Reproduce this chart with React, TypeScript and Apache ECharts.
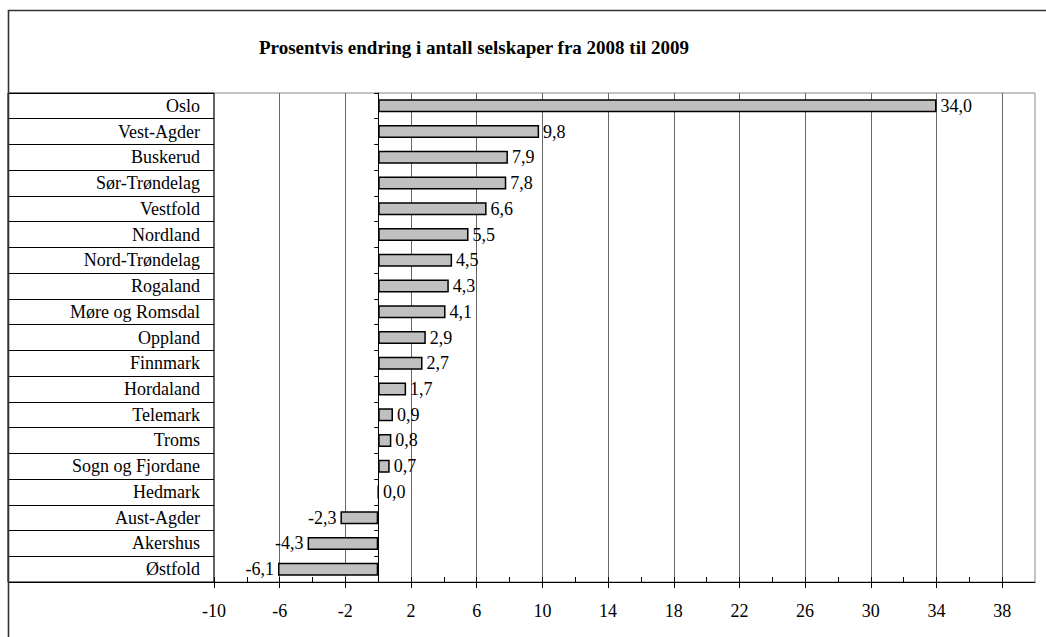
import React, { useEffect, useRef } from "react";
import * as echarts from "echarts";

const categories = [
  "Oslo", "Vest-Agder", "Buskerud", "Sør-Trøndelag", "Vestfold", "Nordland",
  "Nord-Trøndelag", "Rogaland", "Møre og Romsdal", "Oppland", "Finnmark",
  "Hordaland", "Telemark", "Troms", "Sogn og Fjordane", "Hedmark",
  "Aust-Agder", "Akershus", "Østfold",
];
const values = [34.0, 9.8, 7.9, 7.8, 6.6, 5.5, 4.5, 4.3, 4.1, 2.9, 2.7, 1.7, 0.9, 0.8, 0.7, 0.0, -2.3, -4.3, -6.1];
const tickLabels = [-10, -6, -2, 2, 6, 10, 14, 18, 22, 26, 30, 34, 38];
const minorTicks = [-10, -8, -6, -4, -2, 0, 2, 4, 6, 8, 10, 12, 14, 16, 18, 20, 22, 24, 26, 28, 30, 32, 34, 36, 38];
const axisMin = -10;
const axisMax = 40;
const title = "Prosentvis endring i antall selskaper fra 2008 til 2009";

const FONT = '"Liberation Serif", "Times New Roman", serif';

export default function App() {
  const ref = useRef<HTMLDivElement>(null);
  useEffect(() => {
    if (!ref.current) return;
    const chart = echarts.init(ref.current, undefined, { renderer: "svg", width: 1046, height: 637 });
    const fmt = (v: number) => v.toFixed(1).replace(".", ",");
    chart.setOption({
      animation: false,
      backgroundColor: "#fff",
      textStyle: { fontFamily: FONT, color: "#000" },
      title: {
        text: title,
        left: 469,
        top: 33,
        textAlign: "center",
        textStyle: { fontFamily: FONT, fontWeight: "bold", fontSize: 19, color: "#000" },
      },
      graphic: [
        {
          type: "rect",
          shape: { x: 8.5, y: 10.5, width: 1200, height: 800 },
          style: { fill: "none", stroke: "#333", lineWidth: 1.6 },
          silent: true,
          z: 100,
        },
      ],
      grid: [
        { left: 214, right: 11, top: 93, bottom: 55, show: true, borderColor: "#888", borderWidth: 1, containLabel: false },
        { left: 8, width: 206, top: 93, bottom: 55, show: true, borderColor: "#000", borderWidth: 1, containLabel: false },
      ],
      xAxis: [
        {
          type: "value",
          gridIndex: 0,
          min: axisMin,
          max: axisMax,
          interval: 4,
          position: "bottom",
          axisLine: { show: true, onZero: false, lineStyle: { color: "#000", width: 1 } },
          axisTick: { show: true, inside: false, length: 6, lineStyle: { color: "#000" }, customValues: tickLabels },
          axisLabel: {
            show: true,
            fontFamily: FONT,
            fontSize: 18,
            color: "#000",
            margin: 20,
            customValues: tickLabels,
          },
          splitLine: { show: true, lineStyle: { color: "#666", width: 1 } },
        },
        {
          type: "value",
          gridIndex: 0,
          min: axisMin,
          max: axisMax,
          interval: 2,
          position: "bottom",
          axisLine: { show: false, onZero: false },
          axisTick: { show: true, inside: true, length: 5, lineStyle: { color: "#000" }, customValues: minorTicks },
          axisLabel: { show: false },
          splitLine: { show: false },
        },
        {
          type: "value",
          gridIndex: 1,
          min: 0,
          max: 1,
          show: false,
        },
      ],
      yAxis: [
        {
          type: "category",
          gridIndex: 0,
          data: categories,
          inverse: true,
          axisLine: { show: true, onZero: true, onZeroAxisIndex: 0, lineStyle: { color: "#000", width: 1 } },
          axisTick: { show: true, length: 4, lineStyle: { color: "#000" } },
          axisLabel: { show: false },
          splitLine: { show: false },
        },
        {
          type: "category",
          gridIndex: 1,
          data: categories,
          inverse: true,
          position: "right",
          axisLine: { show: false },
          axisTick: { show: false },
          axisLabel: { show: true, inside: true, margin: 14, fontFamily: FONT, fontSize: 18, color: "#000" },
          splitLine: { show: true, lineStyle: { color: "#000", width: 1 } },
        },
      ],
      series: [
        {
          type: "bar",
          xAxisIndex: 0,
          yAxisIndex: 0,
          barWidth: 13,
          data: values.map((v) => ({
            value: v,
            label: { position: v < 0 ? "left" : "right" },
          })),
          itemStyle: { color: "#c0c0c0", borderColor: "#000", borderWidth: 1.5 },
          label: {
            show: true,
            distance: 4,
            fontFamily: FONT,
            fontSize: 18,
            color: "#000",
            formatter: (p: any) => fmt(p.value),
          },
        },
      ],
    });
    return () => chart.dispose();
  }, []);
  return (
    <div
      ref={ref}
      style={{ position: "absolute", left: 0, top: 0, width: 1046, height: 637 }}
    />
  );
}
